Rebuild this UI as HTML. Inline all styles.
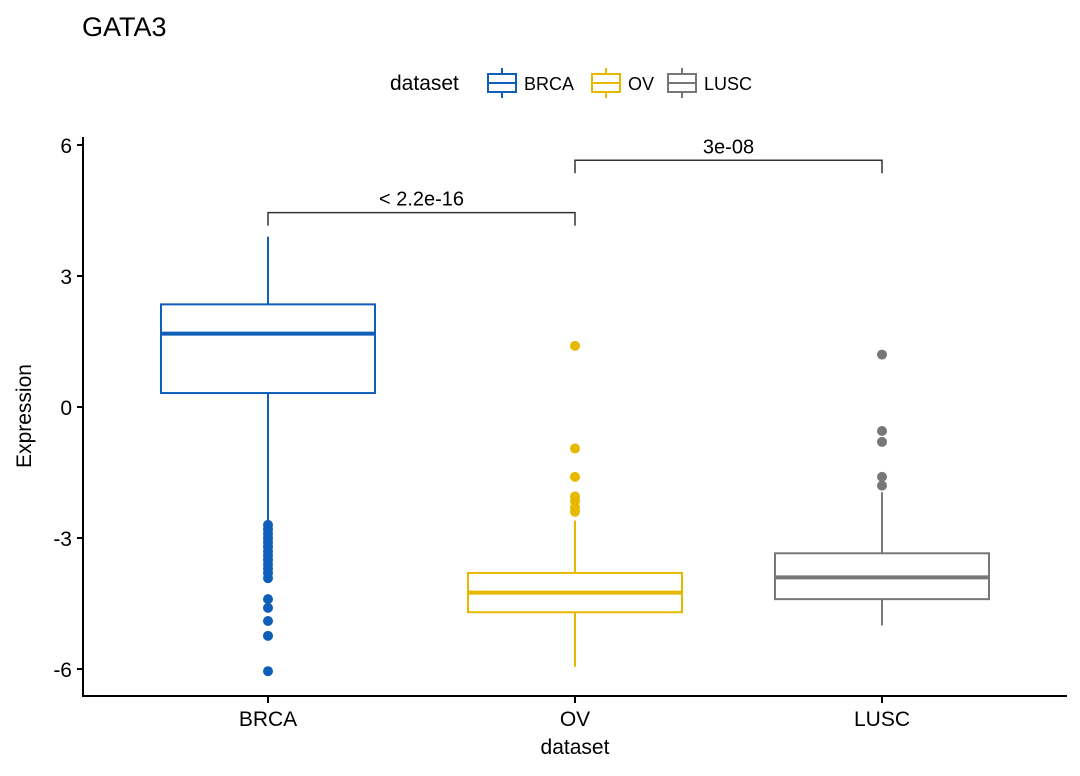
<!DOCTYPE html>
<html><head><meta charset="utf-8"><style>
body{margin:0;background:#fff;font-family:"Liberation Sans",sans-serif;}
svg text{font-family:"Liberation Sans",sans-serif;}
</style></head><body>
<svg width="1080" height="771" id="c">
<text x="82" y="36" font-size="27" fill="#000">GATA3</text>
<g>
<text x="390" y="90" font-size="21">dataset</text>
</g>
<line x1="83" y1="137" x2="83" y2="697" stroke="#000" stroke-width="2"/>
<line x1="82" y1="696" x2="1067" y2="696" stroke="#000" stroke-width="2"/>
<text transform="translate(31,416) rotate(-90)" text-anchor="middle" font-size="21">Expression</text>
<text x="575" y="754" text-anchor="middle" font-size="21">dataset</text>
</svg>
<script>
const groups=["BRCA","OV","LUSC"];
const colors=["#0f5fb8","#e7b800","#777777"];
const q1=[0.32,-4.7,-4.4];
const med=[1.68,-4.25,-3.9];
const q3=[2.35,-3.8,-3.35];
const wlo=[-2.6,-5.95,-5.0];
const whi=[3.9,-2.6,-1.95];
const outliers=[
 [-2.7,-2.8,-2.9,-3.0,-3.1,-3.2,-3.3,-3.4,-3.5,-3.6,-3.7,-3.8,-3.92,-4.4,-4.6,-4.9,-5.24,-6.05],
 [1.4,-0.95,-1.6,-2.05,-2.15,-2.3,-2.4],
 [1.2,-0.55,-0.8,-1.6,-1.8]];
const yTicks=[6,3,0,-3,-6];
const tickLabels=["6","3","0","-3","-6"];
const comparisons=[[0,1,4.45,"< 2.2e-16"],[1,2,5.65,"3e-08"]];
const svg=document.getElementById('c');const NS="http://www.w3.org/2000/svg";
const y=v=>407-v*43.67;const x=i=>268+i*307;const hw=107;
function mk(t,a,p){const e=document.createElementNS(NS,t);for(const k in a)e.setAttribute(k,a[k]);(p||svg).appendChild(e);return e;}
yTicks.forEach((v,i)=>{
 const l=mk('line',{x1:77,x2:83,y1:y(v),y2:y(v),stroke:'#000','stroke-width':2});
 
 
 const t=mk('text',{x:72,y:y(v)+8,'text-anchor':'end','font-size':21});t.textContent=tickLabels[i];
 
 
});
groups.forEach((g,i)=>{
 const c=colors[i],cx=x(i);
 const l=mk('line',{x1:cx,x2:cx,y1:697,y2:703,stroke:'#000','stroke-width':2});
 
 
 const t=mk('text',{x:cx,y:726,'text-anchor':'middle','font-size':21});t.textContent=g;
 
 
 const grp=mk('g',{});
 
 
 mk('line',{x1:cx,x2:cx,y1:y(whi[i]),y2:y(q3[i]),stroke:c,'stroke-width':2},grp);
 mk('line',{x1:cx,x2:cx,y1:y(q1[i]),y2:y(wlo[i]),stroke:c,'stroke-width':2},grp);
 mk('rect',{x:cx-hw,y:y(q3[i]),width:2*hw,height:y(q1[i])-y(q3[i]),fill:'#fff',stroke:c,'stroke-width':2},grp);
 mk('line',{x1:cx-hw,x2:cx+hw,y1:y(med[i]),y2:y(med[i]),stroke:c,'stroke-width':4},grp);
 outliers[i].forEach(v=>{const p=mk('circle',{cx:cx,cy:y(v),r:5,fill:c},grp);
  
  });
 const lx=[488,592,668][i];
 const lg=mk('g',{});
 
 
 mk('line',{x1:lx+14,x2:lx+14,y1:68,y2:98,stroke:c,'stroke-width':2},lg);
 mk('rect',{x:lx,y:74,width:28,height:18,fill:'#fff',stroke:c,'stroke-width':2},lg);
 mk('line',{x1:lx,x2:lx+28,y1:83,y2:83,stroke:c,'stroke-width':2},lg);
 const lt=mk('text',{x:lx+36,y:90,'font-size':18},lg);lt.textContent=g;
});
comparisons.forEach(cm=>{
 const [a,b,v,lab]=cm;const yy=y(v);
 const g=mk('g',{});
 
 
 mk('path',{d:`M${x(a)},${yy+13}V${yy}H${x(b)}V${yy+13}`,fill:'none',stroke:'#333','stroke-width':1.5},g);
 const t=mk('text',{x:(x(a)+x(b))/2,y:yy-7,'text-anchor':'middle','font-size':20},g);t.textContent=lab;
});
</script>
</body></html>
